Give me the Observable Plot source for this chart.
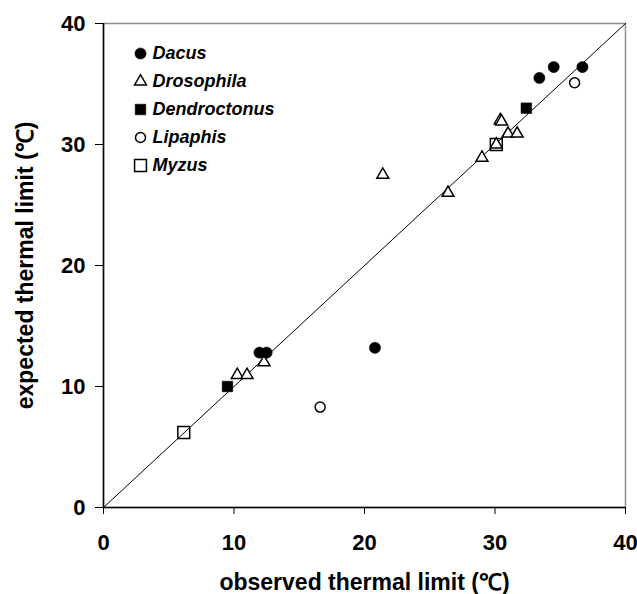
<!DOCTYPE html>
<html>
<head>
<meta charset="utf-8">
<script src="https://cdn.jsdelivr.net/npm/d3@7"></script>
<script src="https://cdn.jsdelivr.net/npm/@observablehq/plot@0.6"></script>
<style>
  html, body { margin: 0; padding: 0; background: #fff; }
  #wrap { position: relative; width: 637px; height: 594px; }
  #legend { position: absolute; left: 120px; top: 30px; }
</style>
</head>
<body>
<div id="wrap"><div id="chart"></div><div id="legend"></div></div>
<script>
// ---- data ----
const seriesNames = ["Dacus", "Drosophila", "Dendroctonus", "Lipaphis", "Myzus"];

const dacusObserved = [11.95, 12.5, 20.8, 33.4, 34.5, 36.7];
const dacusExpected = [12.8, 12.8, 13.2, 35.5, 36.4, 36.4];

const drosophilaObserved = [10.25, 11.0, 12.3, 21.4, 26.4, 29.0, 30.1, 30.4, 30.5, 31.0, 31.7];
const drosophilaExpected = [10.95, 10.95, 12.0, 27.5, 26.0, 28.9, 30.0, 32.0, 31.9, 30.9, 30.9];

const dendroctonusObserved = [9.5, 32.4];
const dendroctonusExpected = [10.0, 33.0];

const lipaphisObserved = [16.6, 36.1];
const lipaphisExpected = [8.3, 35.1];

const myzusObserved = [6.15, 30.1];
const myzusExpected = [6.2, 30.0];

const axisTicks = [0, 10, 20, 30, 40];
const diagonal = [0, 40];
const xTitle = "observed thermal limit (℃)";
const yTitle = "expected thermal limit (℃)";

// ---- build tables ----
const zip = (xs, ys) => xs.map((x, i) => ({x, y: ys[i]}));
const seriesData = {
  Dacus: zip(dacusObserved, dacusExpected),
  Drosophila: zip(drosophilaObserved, drosophilaExpected),
  Dendroctonus: zip(dendroctonusObserved, dendroctonusExpected),
  Lipaphis: zip(lipaphisObserved, lipaphisExpected),
  Myzus: zip(myzusObserved, myzusExpected)
};

// ---- marker styles ----
const styles = {
  Dacus: {symbol: "circle", fill: "black", stroke: "black", r: 5.6, strokeWidth: 0.5},
  Drosophila: {symbol: "triangle", fill: "white", stroke: "black", r: 4.4, strokeWidth: 1.5},
  Dendroctonus: {symbol: "square", fill: "black", stroke: "black", r: 6.0, strokeWidth: 0.5},
  Lipaphis: {symbol: "circle", fill: "white", stroke: "black", r: 5.0, strokeWidth: 1.5},
  Myzus: {symbol: "square", fill: "none", stroke: "black", r: 6.7, strokeWidth: 1.5}
};

const font = "'Liberation Sans', Arial, Helvetica, sans-serif";
const drawOrder = ["Myzus", "Lipaphis", "Dendroctonus", "Drosophila", "Dacus"];

const chart = Plot.plot({
  width: 637,
  height: 594,
  marginLeft: 103,
  marginRight: 12,
  marginTop: 23,
  marginBottom: 87,
  style: {fontFamily: font, fontSize: "22px", fontWeight: "bold", color: "black", background: "white"},
  x: {domain: [0, 40]},
  y: {domain: [0, 40]},
  marks: [
    Plot.frame({stroke: "#8c8c8c", strokeWidth: 1.5}),
    Plot.line(diagonal, {x: d => d, y: d => d, stroke: "black", strokeWidth: 1}),
    ...drawOrder.map(name => Plot.dot(seriesData[name], {x: "x", y: "y", ...styles[name]})),
    Plot.ruleX([0], {stroke: "black", strokeWidth: 1.5}),
    Plot.ruleY([0], {stroke: "black", strokeWidth: 1.5}),
    Plot.axisX({ticks: axisTicks, tickFormat: d => String(d), tickSize: 7, tickPadding: 20, label: null, stroke: "black", fontSize: 22}),
    Plot.axisY({ticks: axisTicks, tickFormat: d => String(d), tickSize: 8, tickPadding: 10, label: null, stroke: "black", fontSize: 22}),
    Plot.text([xTitle], {frameAnchor: "bottom", dy: 75, lineAnchor: "middle", textAnchor: "middle", text: d => d, fontSize: 23, fontWeight: "bold"}),
    Plot.text([yTitle], {frameAnchor: "left", dx: -78, rotate: -90, lineAnchor: "middle", textAnchor: "middle", text: d => d, fontSize: 23, fontWeight: "bold"})
  ]
});
document.getElementById("chart").appendChild(chart);

// ---- legend ----
const legendRows = seriesNames.map(name => ({name}));
const legend = Plot.plot({
  width: 200,
  height: 160,
  margin: 0,
  style: {fontFamily: font, fontSize: "18px", fontWeight: "bold", fontStyle: "italic", background: "transparent"},
  x: {axis: null},
  y: {type: "point", domain: seriesNames, range: [21.7, 135.7], padding: 0, axis: null},
  marks: [
    ...seriesNames.map(name => Plot.dot(legendRows.filter(d => d.name === name), {y: "name", frameAnchor: "left", dx: 20, ...styles[name]})),
    Plot.text(legendRows, {y: "name", frameAnchor: "left", dx: 32, text: "name", textAnchor: "start", fontSize: 18, fontWeight: "bold", fontStyle: "italic"})
  ]
});
document.getElementById("legend").appendChild(legend);
</script>
</body>
</html>
